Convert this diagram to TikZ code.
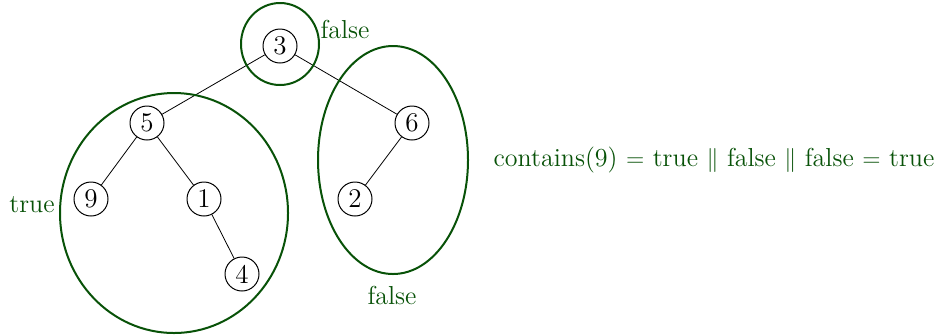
\documentclass[tikz,border=0pt]{standalone}
\usetikzlibrary{shapes.geometric}
\definecolor{leafgreen}{RGB}{8,82,8}
\begin{document}
\begin{tikzpicture}[x=0.5pt,y=-0.5pt,
  treenode/.style={circle,draw,line width=0.5pt,minimum size=17pt,inner sep=0pt,font=\fontsize{13.5}{15}\selectfont},
  edge/.style={draw,line width=0.4pt},
  region/.style={draw=leafgreen,line width=1pt},
  verdict/.style={text=leafgreen,font=\fontsize{13}{15}\selectfont,inner sep=0pt}]
\useasboundingbox (0,0) rectangle (940,334);
% tree
\node[treenode] (n3) at (280,46) {3};
\node[treenode] (n5) at (147,123) {5};
\node[treenode] (n6) at (412,123) {6};
\node[treenode] (n9) at (91,199) {9};
\node[treenode] (n1) at (204,199) {1};
\node[treenode] (n2) at (355,199) {2};
\node[treenode] (n4) at (242,274) {4};
\draw[edge] (n3) -- (n5);
\draw[edge] (n3) -- (n6);
\draw[edge] (n5) -- (n9);
\draw[edge] (n5) -- (n1);
\draw[edge] (n1) -- (n4);
\draw[edge] (n6) -- (n2);
% subtree regions
\draw[region] (280,44) circle [x radius=39,y radius=41];
\draw[region] (174,213) ellipse [x radius=114,y radius=120];
\draw[region] (393,160) ellipse [x radius=75,y radius=114];
% results
\node[verdict] (froot) at (345,29) {false};
\node[verdict] (fleft) at (32,205) {true};
\node[verdict] (fright) at (392,295) {false};
\node[verdict] (result) at (714,160) {contains(9) $=$ true $\|$ false $\|$ false $=$ true};
\end{tikzpicture}
\end{document}
